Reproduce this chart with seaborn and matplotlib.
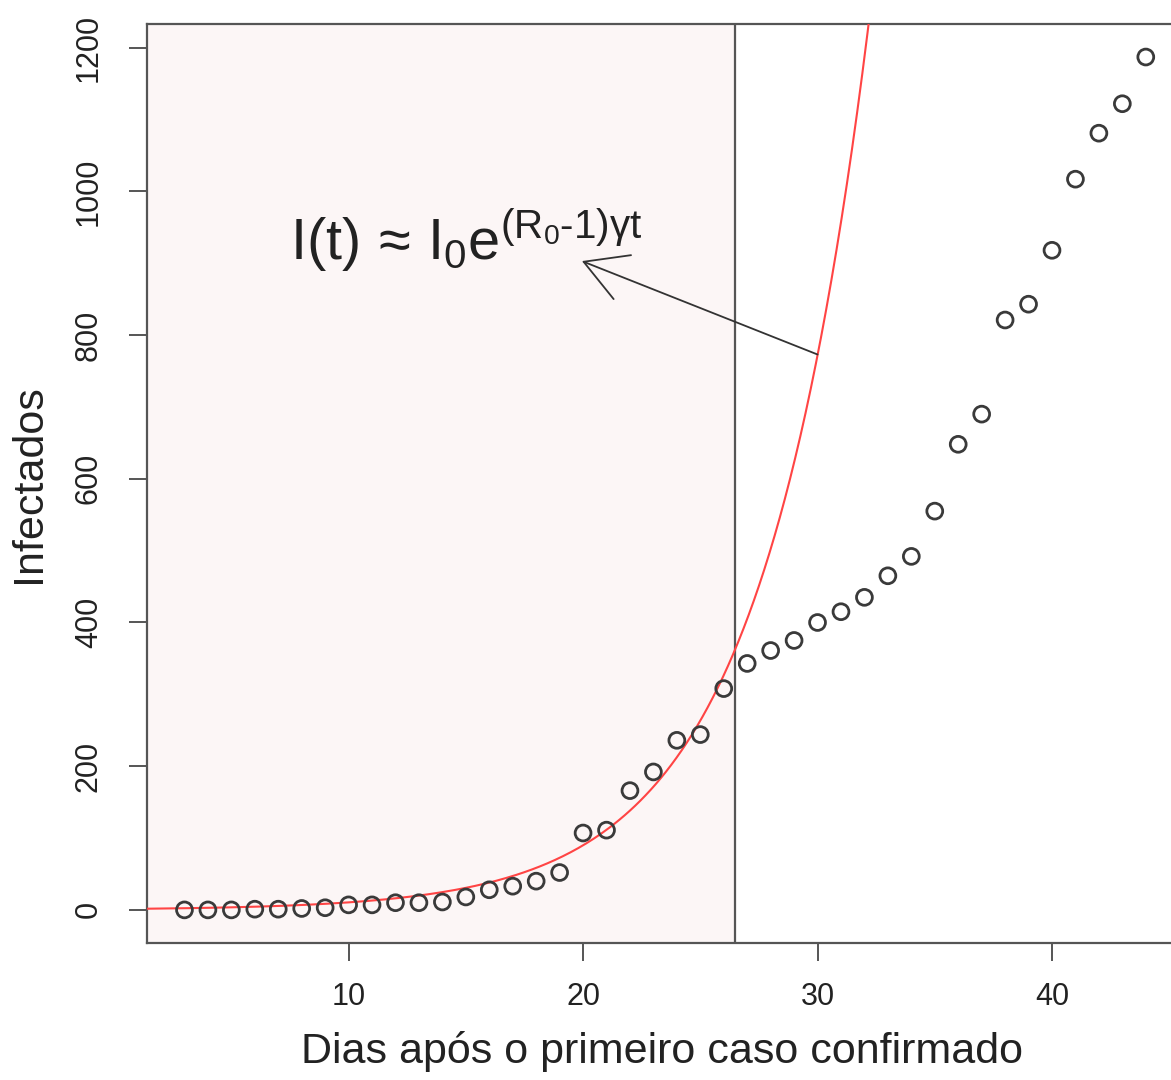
import matplotlib
matplotlib.use("Agg")
import matplotlib.pyplot as plt
import numpy as np
import pandas as pd
import seaborn as sns

# observed cases
days = list(range(3, 45))
infected = [0, 0, 0, 1, 1, 2, 3, 7, 7, 10, 10, 11, 18, 28, 33, 40, 52,
            107, 111, 166, 192, 236, 244, 308, 343, 361, 375, 400, 415,
            435, 465, 492, 555, 648, 690, 821, 843, 918, 1017, 1081, 1122, 1187]

# exponential model I(t) = I0 * exp(r t)
model_I0 = 1.22
model_rate = 0.215
fit_cutoff = 26.5

sns.set_style("ticks")
plt.rcParams["font.family"] = ["Liberation Sans", "DejaVu Sans"]
plt.rcParams["mathtext.fontset"] = "custom"
plt.rcParams["mathtext.rm"] = "Liberation Sans"
plt.rcParams["mathtext.it"] = "Liberation Sans"
plt.rcParams["mathtext.sf"] = "Liberation Sans"

fig = plt.figure(figsize=(11.71, 10.8), dpi=100)
ax = fig.add_axes([0.1255, 0.1269, 0.88, 0.8509])

xmin, xmax = 1.40, 45.35
ymin, ymax = -46, 1233

ax.axvspan(xmin, fit_cutoff, color="#FCF6F6", zorder=0)
ax.axvline(fit_cutoff, color="#555555", linewidth=1.6, zorder=2)

t = np.linspace(xmin, xmax, 400)
curve = pd.DataFrame({"t": t, "I": model_I0 * np.exp(model_rate * t)})
sns.lineplot(data=curve, x="t", y="I", color="#FF4444", linewidth=1.5, ax=ax, zorder=3)

obs = pd.DataFrame({"dia": days, "infectados": infected})
sns.scatterplot(data=obs, x="dia", y="infectados", ax=ax, s=130,
                facecolor="none", edgecolor="#3A3A3A", linewidth=2.0, zorder=4)

ax.annotate("", xy=(19.95, 903), xytext=(30, 773),
            arrowprops=dict(arrowstyle="->,head_length=3.0,head_width=1.7",
                            mutation_scale=10, color="#333333", linewidth=1.3,
                            shrinkA=0, shrinkB=0))
ax.text(7.5, 905, r"$\mathrm{I(t)\,\approx\,I_0e^{(R_0\text{-}1)γt}}$",
        fontsize=41.5, color="#222222", ha="left", va="baseline")

ax.set_xlim(xmin, xmax)
ax.set_ylim(ymin, ymax)
ax.set_xticks([10, 20, 30, 40])
ax.set_yticks([0, 200, 400, 600, 800, 1000, 1200])
ax.tick_params(axis="both", length=13, width=1.4, color="#555555",
               labelsize=22, labelcolor="#222222")
ax.tick_params(axis="x", pad=15)
ax.tick_params(axis="y", pad=18)
plt.setp(ax.get_yticklabels(), rotation=90, va="center")
for side in ["left", "bottom", "top", "right"]:
    ax.spines[side].set_color("#555555")
    ax.spines[side].set_linewidth(1.6)

ax.set_xlabel("Dias após o primeiro caso confirmado", fontsize=31, color="#222222", labelpad=14)
ax.set_ylabel("Infectados", fontsize=31, color="#222222", labelpad=18)

fig.savefig("out.png", dpi=100)
